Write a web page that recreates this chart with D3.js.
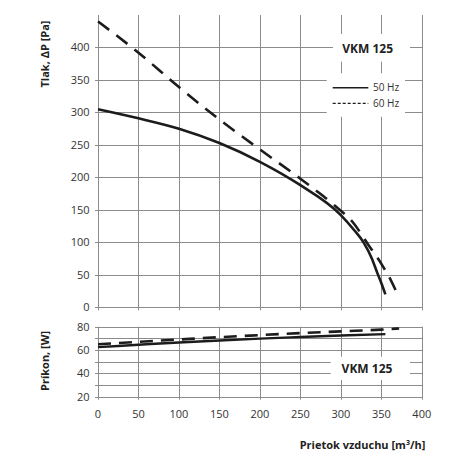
<!DOCTYPE html>
<html><head><meta charset="utf-8">
<script src="https://cdn.jsdelivr.net/npm/d3@7"></script>
<style>
html,body{margin:0;padding:0;background:#fff;}
svg text{font-family:"Open Sans",sans-serif;}
</style></head>
<body>
<svg id="chart" width="470" height="470"></svg>
<script>
// ---- data ----
const xTicks = [0,50,100,150,200,250,300,350,400];
const pTicks = [0,50,100,150,200,250,300,350,400];
const wTicks = [20,40,60,80];
const wGrid = [20,30,40,50,60,70,80];

const flow50 = [0,50,100,150,200,250,300,315,328,338,345,351,355];
const pres50 = [305,291,275,253,224,188,142,121,100,76,53,34,20];
const flow60 = [0,50,100,150,200,250,268,293,316,333,351,362,370];
const pres60 = [440,392,339,289,243,198,181,156,129,98,65,41,20];

const wFlow50 = [0,50,100,150,200,250,300,355];
const watt50  = [62.5,64.5,66.5,68.2,69.8,71.2,72.5,73.6];
const wFlow60 = [0,50,100,150,200,250,300,350,372];
const watt60  = [65,67,69,71,72.8,74.5,76,77.5,78.5];

const seriesNames = ["50 Hz","60 Hz"];
const modelName = "VKM 125";

// ---- layout ----
const svg = d3.select("#chart");
const x = d3.scaleLinear().domain([0,400]).range([98,421.8]);
const yP = d3.scaleLinear().domain([0,450]).range([307.3,15]);
const yW = d3.scaleLinear().domain([20,80]).range([396.7,326.7]);
const gridCol = "#8c8c8c";
const lineCol = "#1c1c1c";
const textCol = "#333";

function grid(yScale, hVals, yTop, yBot){
  const g = svg.append("g");
  g.selectAll(".h").data(hVals).enter().append("line")
    .attr("x1",x(0)-3).attr("x2",x(400)+0.5)
    .attr("y1",d=>Math.round(yScale(d))+0.5).attr("y2",d=>Math.round(yScale(d))+0.5)
    .attr("stroke",gridCol).attr("stroke-width",1);
  g.selectAll(".v").data(xTicks).enter().append("line")
    .attr("x1",d=>Math.round(x(d))+0.5).attr("x2",d=>Math.round(x(d))+0.5)
    .attr("y1",yTop).attr("y2",yBot+3)
    .attr("stroke",gridCol).attr("stroke-width",1);
}
grid(yP, pTicks, 15, yP(0));
grid(yW, wGrid, yW(80), yW(20));

// white label boxes
function box(x0,y0,x1,y1){svg.append("rect").attr("x",x0).attr("y",y0).attr("width",x1-x0).attr("height",y1-y0).attr("fill","#fff");}
box(333,34,410,61.7);
box(326.7,73.3,405,116.7);
box(330.7,356.7,410,380);

// axes labels
svg.append("g").selectAll("text").data(pTicks).enter().append("text")
  .attr("x",89.5).attr("y",d=>yP(d)).attr("dy","0.35em").attr("text-anchor","end")
  .attr("font-size",11).attr("fill",textCol).text(d=>d);
svg.append("g").selectAll("text").data(wTicks).enter().append("text")
  .attr("x",89.5).attr("y",d=>yW(d)).attr("dy","0.35em").attr("text-anchor","end")
  .attr("font-size",11).attr("fill",textCol).text(d=>d);
svg.append("g").selectAll("text").data(xTicks).enter().append("text")
  .attr("x",d=>x(d)).attr("y",414).attr("dy","0.35em").attr("text-anchor","middle")
  .attr("font-size",11).attr("fill",textCol).text(d=>d);

// titles
svg.append("text").attr("transform","translate(49,54) rotate(-90)")
  .attr("text-anchor","middle").attr("font-size",11).attr("font-weight","bold").attr("fill","#222")
  .text("Tlak, ΔP [Pa]");
svg.append("text").attr("transform","translate(49,361) rotate(-90)")
  .attr("text-anchor","middle").attr("font-size",11).attr("font-weight","bold").attr("fill","#222")
  .text("Príkon, [W]");
const xt = svg.append("text").attr("x",362.5).attr("y",449)
  .attr("text-anchor","middle").attr("font-size",11).attr("font-weight","bold").attr("fill","#222");
xt.append("tspan").text("Prietok vzduchu  [m");
xt.append("tspan").attr("font-size",7).attr("dy",-4).text("3");
xt.append("tspan").attr("dy",4).text("/h]");

// model labels
svg.append("text").attr("x",367.7).attr("y",48.3).attr("dy","0.35em").attr("text-anchor","middle")
  .attr("font-size",12).attr("font-weight","bold").attr("fill","#222").text(modelName);
svg.append("text").attr("x",367).attr("y",368.3).attr("dy","0.35em").attr("text-anchor","middle")
  .attr("font-size",12).attr("font-weight","bold").attr("fill","#222").text(modelName);

// legend
const leg = svg.append("g");
[[87.7,null],[103.3,"3,2"]].forEach((r,i)=>{
  const l = leg.append("line").attr("x1",332.7).attr("x2",368.3).attr("y1",r[0]).attr("y2",r[0])
    .attr("stroke",lineCol).attr("stroke-width",i===0?1.5:1.3);
  if(r[1]) l.attr("stroke-dasharray",r[1]);
  leg.append("text").attr("x",373).attr("y",r[0]).attr("dy","0.35em")
    .attr("font-size",10).attr("fill",textCol).text(seriesNames[i]);
});

// curves
function curve(xs, ys, yScale, dash, w){
  const pts = xs.map((d,i)=>[d,ys[i]]);
  const line = d3.line().x(d=>x(d[0])).y(d=>yScale(d[1])).curve(d3.curveMonotoneX);
  const p = svg.append("path").datum(pts).attr("d",line).attr("fill","none")
    .attr("stroke",lineCol).attr("stroke-width",w).attr("stroke-linecap","butt");
  if(dash) p.attr("stroke-dasharray",dash);
}
curve(flow50,pres50,yP,null,2.6);
curve(flow60,pres60,yP,"14,9",2.6);
curve(wFlow50,watt50,yW,null,2.4);
curve(wFlow60,watt60,yW,"13,8",2.6);
</script>
</body></html>
